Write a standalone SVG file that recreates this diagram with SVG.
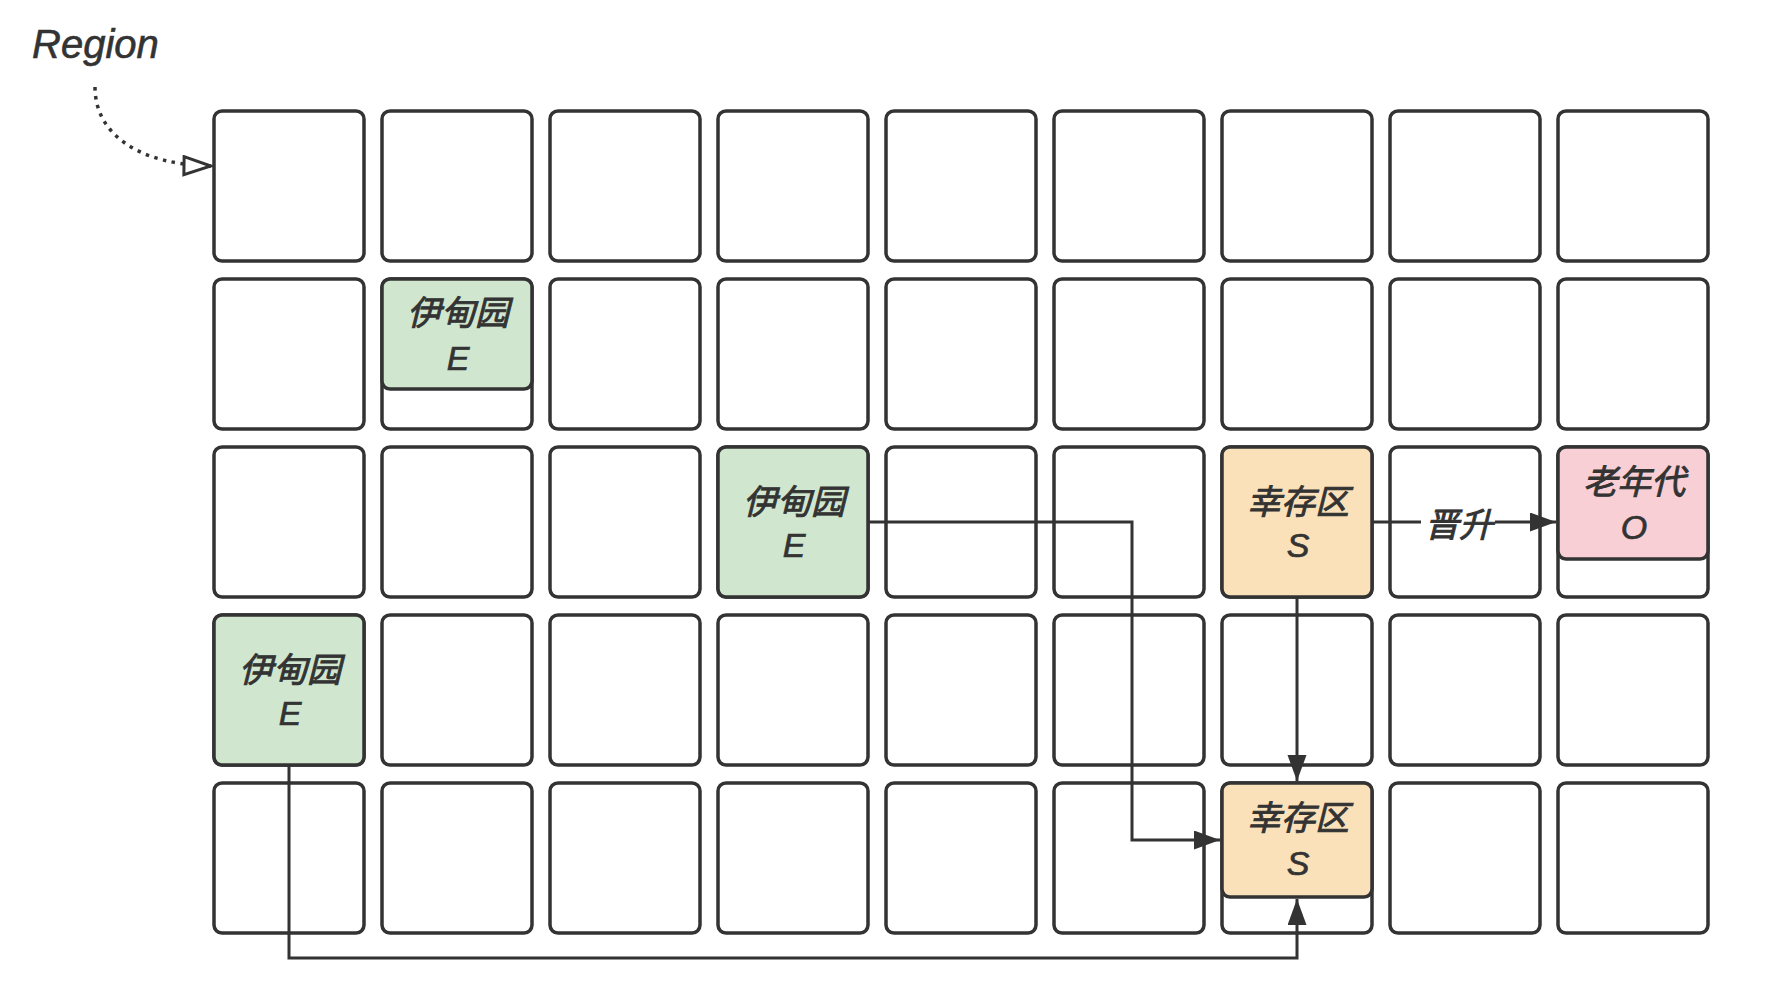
<svg xmlns="http://www.w3.org/2000/svg" width="1768" height="994" viewBox="0 0 1768 994">
<style>
.cell{fill:#ffffff;stroke:#333333;stroke-width:3.5}
.eden{fill:#d0e6ce;stroke:#333333;stroke-width:3.5}
.surv{fill:#fae1ba;stroke:#333333;stroke-width:3.5}
.old{fill:#f7cfd4;stroke:#333333;stroke-width:3.5}
.t{font-family:"Liberation Sans","Noto Sans CJK SC",sans-serif;font-style:italic;font-weight:400;font-size:34px;fill:#333333;stroke:#333333;stroke-width:0.9;text-anchor:middle}
.l{font-size:34px;stroke-width:0.7}
.edge{fill:none;stroke:#333333;stroke-width:3}
</style>
<defs>
<marker id="arr" markerUnits="userSpaceOnUse" markerWidth="28" markerHeight="20" refX="26" refY="9.5" orient="auto">
<path d="M0,0 L26,9.5 L0,19 z" fill="#333333"/>
</marker>
<marker id="open" markerUnits="userSpaceOnUse" markerWidth="32" markerHeight="24" refX="30" refY="11" orient="auto">
<path d="M2,2 L29,11 L2,20 z" fill="#ffffff" stroke="#333333" stroke-width="3"/>
</marker>
</defs>
<rect width="1768" height="994" fill="#ffffff"/>
<g id="grid">
<rect class="cell" x="214" y="111" width="150" height="150" rx="8"/>
<rect class="cell" x="382" y="111" width="150" height="150" rx="8"/>
<rect class="cell" x="550" y="111" width="150" height="150" rx="8"/>
<rect class="cell" x="718" y="111" width="150" height="150" rx="8"/>
<rect class="cell" x="886" y="111" width="150" height="150" rx="8"/>
<rect class="cell" x="1054" y="111" width="150" height="150" rx="8"/>
<rect class="cell" x="1222" y="111" width="150" height="150" rx="8"/>
<rect class="cell" x="1390" y="111" width="150" height="150" rx="8"/>
<rect class="cell" x="1558" y="111" width="150" height="150" rx="8"/>
<rect class="cell" x="214" y="279" width="150" height="150" rx="8"/>
<rect class="cell" x="382" y="279" width="150" height="150" rx="8"/>
<rect class="cell" x="550" y="279" width="150" height="150" rx="8"/>
<rect class="cell" x="718" y="279" width="150" height="150" rx="8"/>
<rect class="cell" x="886" y="279" width="150" height="150" rx="8"/>
<rect class="cell" x="1054" y="279" width="150" height="150" rx="8"/>
<rect class="cell" x="1222" y="279" width="150" height="150" rx="8"/>
<rect class="cell" x="1390" y="279" width="150" height="150" rx="8"/>
<rect class="cell" x="1558" y="279" width="150" height="150" rx="8"/>
<rect class="cell" x="214" y="447" width="150" height="150" rx="8"/>
<rect class="cell" x="382" y="447" width="150" height="150" rx="8"/>
<rect class="cell" x="550" y="447" width="150" height="150" rx="8"/>
<rect class="cell" x="718" y="447" width="150" height="150" rx="8"/>
<rect class="cell" x="886" y="447" width="150" height="150" rx="8"/>
<rect class="cell" x="1054" y="447" width="150" height="150" rx="8"/>
<rect class="cell" x="1222" y="447" width="150" height="150" rx="8"/>
<rect class="cell" x="1390" y="447" width="150" height="150" rx="8"/>
<rect class="cell" x="1558" y="447" width="150" height="150" rx="8"/>
<rect class="cell" x="214" y="615" width="150" height="150" rx="8"/>
<rect class="cell" x="382" y="615" width="150" height="150" rx="8"/>
<rect class="cell" x="550" y="615" width="150" height="150" rx="8"/>
<rect class="cell" x="718" y="615" width="150" height="150" rx="8"/>
<rect class="cell" x="886" y="615" width="150" height="150" rx="8"/>
<rect class="cell" x="1054" y="615" width="150" height="150" rx="8"/>
<rect class="cell" x="1222" y="615" width="150" height="150" rx="8"/>
<rect class="cell" x="1390" y="615" width="150" height="150" rx="8"/>
<rect class="cell" x="1558" y="615" width="150" height="150" rx="8"/>
<rect class="cell" x="214" y="783" width="150" height="150" rx="8"/>
<rect class="cell" x="382" y="783" width="150" height="150" rx="8"/>
<rect class="cell" x="550" y="783" width="150" height="150" rx="8"/>
<rect class="cell" x="718" y="783" width="150" height="150" rx="8"/>
<rect class="cell" x="886" y="783" width="150" height="150" rx="8"/>
<rect class="cell" x="1054" y="783" width="150" height="150" rx="8"/>
<rect class="cell" x="1222" y="783" width="150" height="150" rx="8"/>
<rect class="cell" x="1390" y="783" width="150" height="150" rx="8"/>
<rect class="cell" x="1558" y="783" width="150" height="150" rx="8"/>
</g>
<g id="connectors">
<path class="edge" d="M868,522 H1132 V840 H1220" marker-end="url(#arr)"/>
<path class="edge" d="M1297,597 V781" marker-end="url(#arr)"/>
<path class="edge" d="M289,765 V958 H1297 V899" marker-end="url(#arr)"/>
<path class="edge" d="M1372,522 H1556" marker-end="url(#arr)"/>
<path fill="none" stroke="#333333" stroke-width="3.5" stroke-dasharray="3.5 5.5" d="M95,87 C95,135 140,165 212,166" marker-end="url(#open)"/>
</g>
<g id="label-promote">
<rect x="1421" y="505" width="74" height="38" fill="#ffffff"/>
<text class="t" x="1459" y="537">晋升</text>
</g>
<g id="region-label">
<text x="32" y="58" font-family="Liberation Sans, sans-serif" font-style="italic" font-size="40" fill="#333333" stroke="#333333" stroke-width="0.6">Region</text>
</g>
<g id="eden1">
<rect class="eden" x="382" y="279" width="150" height="110" rx="8"/>
<text class="t" x="458" y="325">伊甸园</text>
<text class="t l" x="458" y="370">E</text>
</g>
<g id="eden2">
<rect class="eden" x="718" y="447" width="150" height="150" rx="8"/>
<text class="t" x="794" y="514">伊甸园</text>
<text class="t l" x="794" y="557">E</text>
</g>
<g id="eden3">
<rect class="eden" x="214" y="615" width="150" height="150" rx="8"/>
<text class="t" x="290" y="682">伊甸园</text>
<text class="t l" x="290" y="725">E</text>
</g>
<g id="survivor1">
<rect class="surv" x="1222" y="447" width="150" height="150" rx="8"/>
<text class="t" x="1298" y="514">幸存区</text>
<text class="t l" x="1298" y="557">S</text>
</g>
<g id="survivor2">
<rect class="surv" x="1222" y="783" width="150" height="114" rx="8"/>
<text class="t" x="1298" y="830">幸存区</text>
<text class="t l" x="1298" y="875">S</text>
</g>
<g id="old">
<rect class="old" x="1558" y="447" width="150" height="112" rx="8"/>
<text class="t" x="1634" y="494">老年代</text>
<text class="t l" x="1634" y="539">O</text>
</g>
</svg>
